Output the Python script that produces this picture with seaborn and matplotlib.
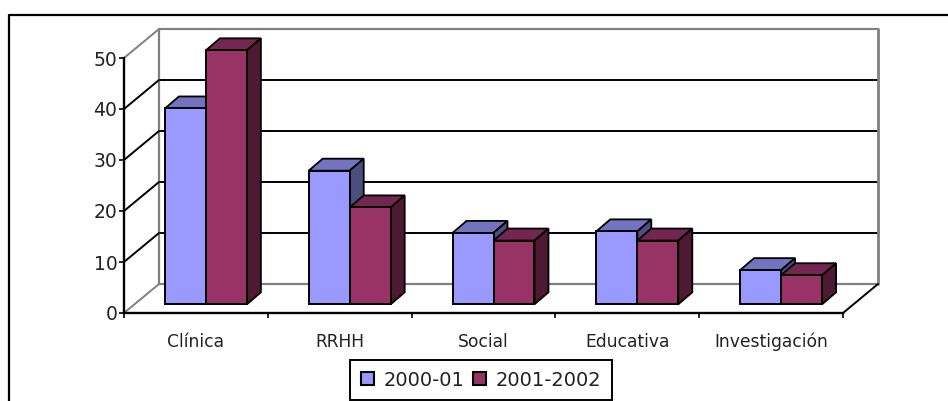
import matplotlib
matplotlib.use("Agg")
import matplotlib.pyplot as plt
import matplotlib.patches as mp
from matplotlib.transforms import Affine2D
import seaborn as sns
import pandas as pd

categories = ["Clínica", "RRHH", "Social", "Educativa", "Investigación"]
series_a = [38.4, 26.2, 14.0, 14.3, 6.7]
series_b = [49.8, 19.0, 12.5, 12.5, 5.7]
series_names = ["2000-01", "2001-2002"]
y_ticks = [0, 10, 20, 30, 40, 50]

W, H = 948, 401
FRONT = "#9999ff"; FRONT2 = "#993366"
TOP = "#7373bf"; TOP2 = "#732650"
SIDE = "#4d4d80"; SIDE2 = "#4d1933"

sns.set_theme(style="white")
plt.rcParams["font.family"] = ["DejaVu Sans"]

fig = plt.figure(figsize=(W / 100, H / 100), dpi=100, facecolor="white")
L, R, B, T = 124, 843, 313, 58
ax = fig.add_axes([L / W, 1 - B / H, (R - L) / W, (B - T) / H])

df = pd.DataFrame({
    "cat": categories * 2,
    "val": series_a + series_b,
    "serie": [series_names[0]] * 5 + [series_names[1]] * 5,
})
sns.barplot(data=df, x="cat", y="val", hue="serie", order=categories,
            hue_order=series_names, palette=[FRONT, FRONT2], width=0.57, gap=0,
            saturation=1, edgecolor="black", linewidth=1.4, ax=ax, zorder=5, legend=False)
ax.set_xlim(-0.5, 4.5)
ax.set_ylim(0, 50)
ax.set_xlabel(""); ax.set_ylabel("")
for s in ("top", "right"):
    ax.spines[s].set_visible(False)
for s in ("left", "bottom"):
    ax.spines[s].set_color("black"); ax.spines[s].set_linewidth(1.7)
ax.set_yticks(y_ticks)
ax.set_xticks([i - 0.5 for i in range(6)], minor=False)
ax.set_xticklabels([])
ax.tick_params(axis="both", length=3.8, width=1.2, color="black", direction="out",
               bottom=True, left=True, pad=1)
ax.tick_params(axis="y", labelsize=13.5, labelcolor="#222222")
ax.patch.set_alpha(0)
for i, c in enumerate(categories):
    ax.annotate(c, (i, 0), xytext=(0, -29), textcoords="offset pixels", ha="center",
                va="center", fontsize=12.3, color="#222222")

# pixel shift of the wall depth
WX, WY = 35, 29
off = ax.transData + Affine2D().translate(WX, WY)
ymax = y_ticks[-1]
for v in y_ticks[1:-1]:
    ax.plot([-0.5, 4.5], [v, v], color="black", lw=1.4, transform=off, clip_on=False, zorder=1)
ax.plot([-0.5, 4.5], [ymax, ymax], color="#808080", lw=1.6, transform=off, clip_on=False, zorder=1)
ax.plot([-0.5, 4.5], [0, 0], color="#808080", lw=1.6, transform=off, clip_on=False, zorder=1)
ax.plot([-0.5, -0.5], [0, ymax], color="#808080", lw=1.6, transform=off, clip_on=False, zorder=1)
ax.plot([4.5, 4.5], [0, ymax], color="#808080", lw=2.0, transform=off, clip_on=False, zorder=1)

def slant(x, v, color, lw):
    p0 = ax.transData.transform((x, v))
    ln = plt.Line2D([p0[0], p0[0] + WX], [p0[1], p0[1] + WY], color=color, lw=lw,
                    transform=None, zorder=2, clip_on=False)
    ax.add_line(ln)

for v in y_ticks:
    slant(-0.5, v, "#808080" if v in (0, ymax) else "black", 1.4)
slant(4.5, 0, "black", 1.4)

# extruded bars
DX, DY = 10, 8.7     # front face shift
BX, BY = 14, 12      # bar depth
colors = {FRONT: (TOP, SIDE), FRONT2: (TOP2, SIDE2)}
bars = [p for p in ax.patches if isinstance(p, mp.Rectangle) and p.get_height() > 0]
bars.sort(key=lambda p: (p.get_x(),))
shift = Affine2D().translate(DX, DY)
for i, p in enumerate(bars):
    fc = FRONT if i % 2 == 0 else FRONT2
    p.set_transform(ax.transData + shift)
    p.set_clip_on(False)
    p.set_zorder(5 + i * 0.01 + 0.005)
    x0, x1 = p.get_x(), p.get_x() + p.get_width()
    h = p.get_height()
    a = ax.transData.transform((x0, h)); b = ax.transData.transform((x1, h)); c = ax.transData.transform((x1, 0))
    a = a + (DX, DY); b = b + (DX, DY); c = c + (DX, DY)
    top = mp.Polygon([a, b, b + (BX, BY), a + (BX, BY)], closed=True, transform=None,
                     fc=colors[fc][0], ec="black", lw=1.3, zorder=p.get_zorder() - 0.002, clip_on=False)
    side = mp.Polygon([b, c, c + (BX, BY), b + (BX, BY)], closed=True, transform=None,
                      fc=colors[fc][1], ec="black", lw=1.3, zorder=p.get_zorder() - 0.002, clip_on=False)
    ax.add_patch(top); ax.add_patch(side)

# outer frame
fig.add_artist(plt.Line2D([9 / W, 9 / W, 948 / W], [0, 1 - 14.5 / H, 1 - 14.5 / H], color="black", lw=1.6))

# legend
handles = [mp.Patch(fc=FRONT, ec="black", lw=1.5), mp.Patch(fc=FRONT2, ec="black", lw=1.5)]
leg = fig.legend(handles, series_names, loc="center", bbox_to_anchor=(481 / W, 1 - 380 / H),
                 ncol=2, frameon=True, fancybox=False, edgecolor="black", framealpha=1,
                 fontsize=14, handlelength=0.68, handleheight=0.68, handletextpad=0.5,
                 columnspacing=0.4, borderpad=0.55, labelcolor="#222222")
leg.get_frame().set_linewidth(1.4)

fig.savefig("out.png", dpi=100)
